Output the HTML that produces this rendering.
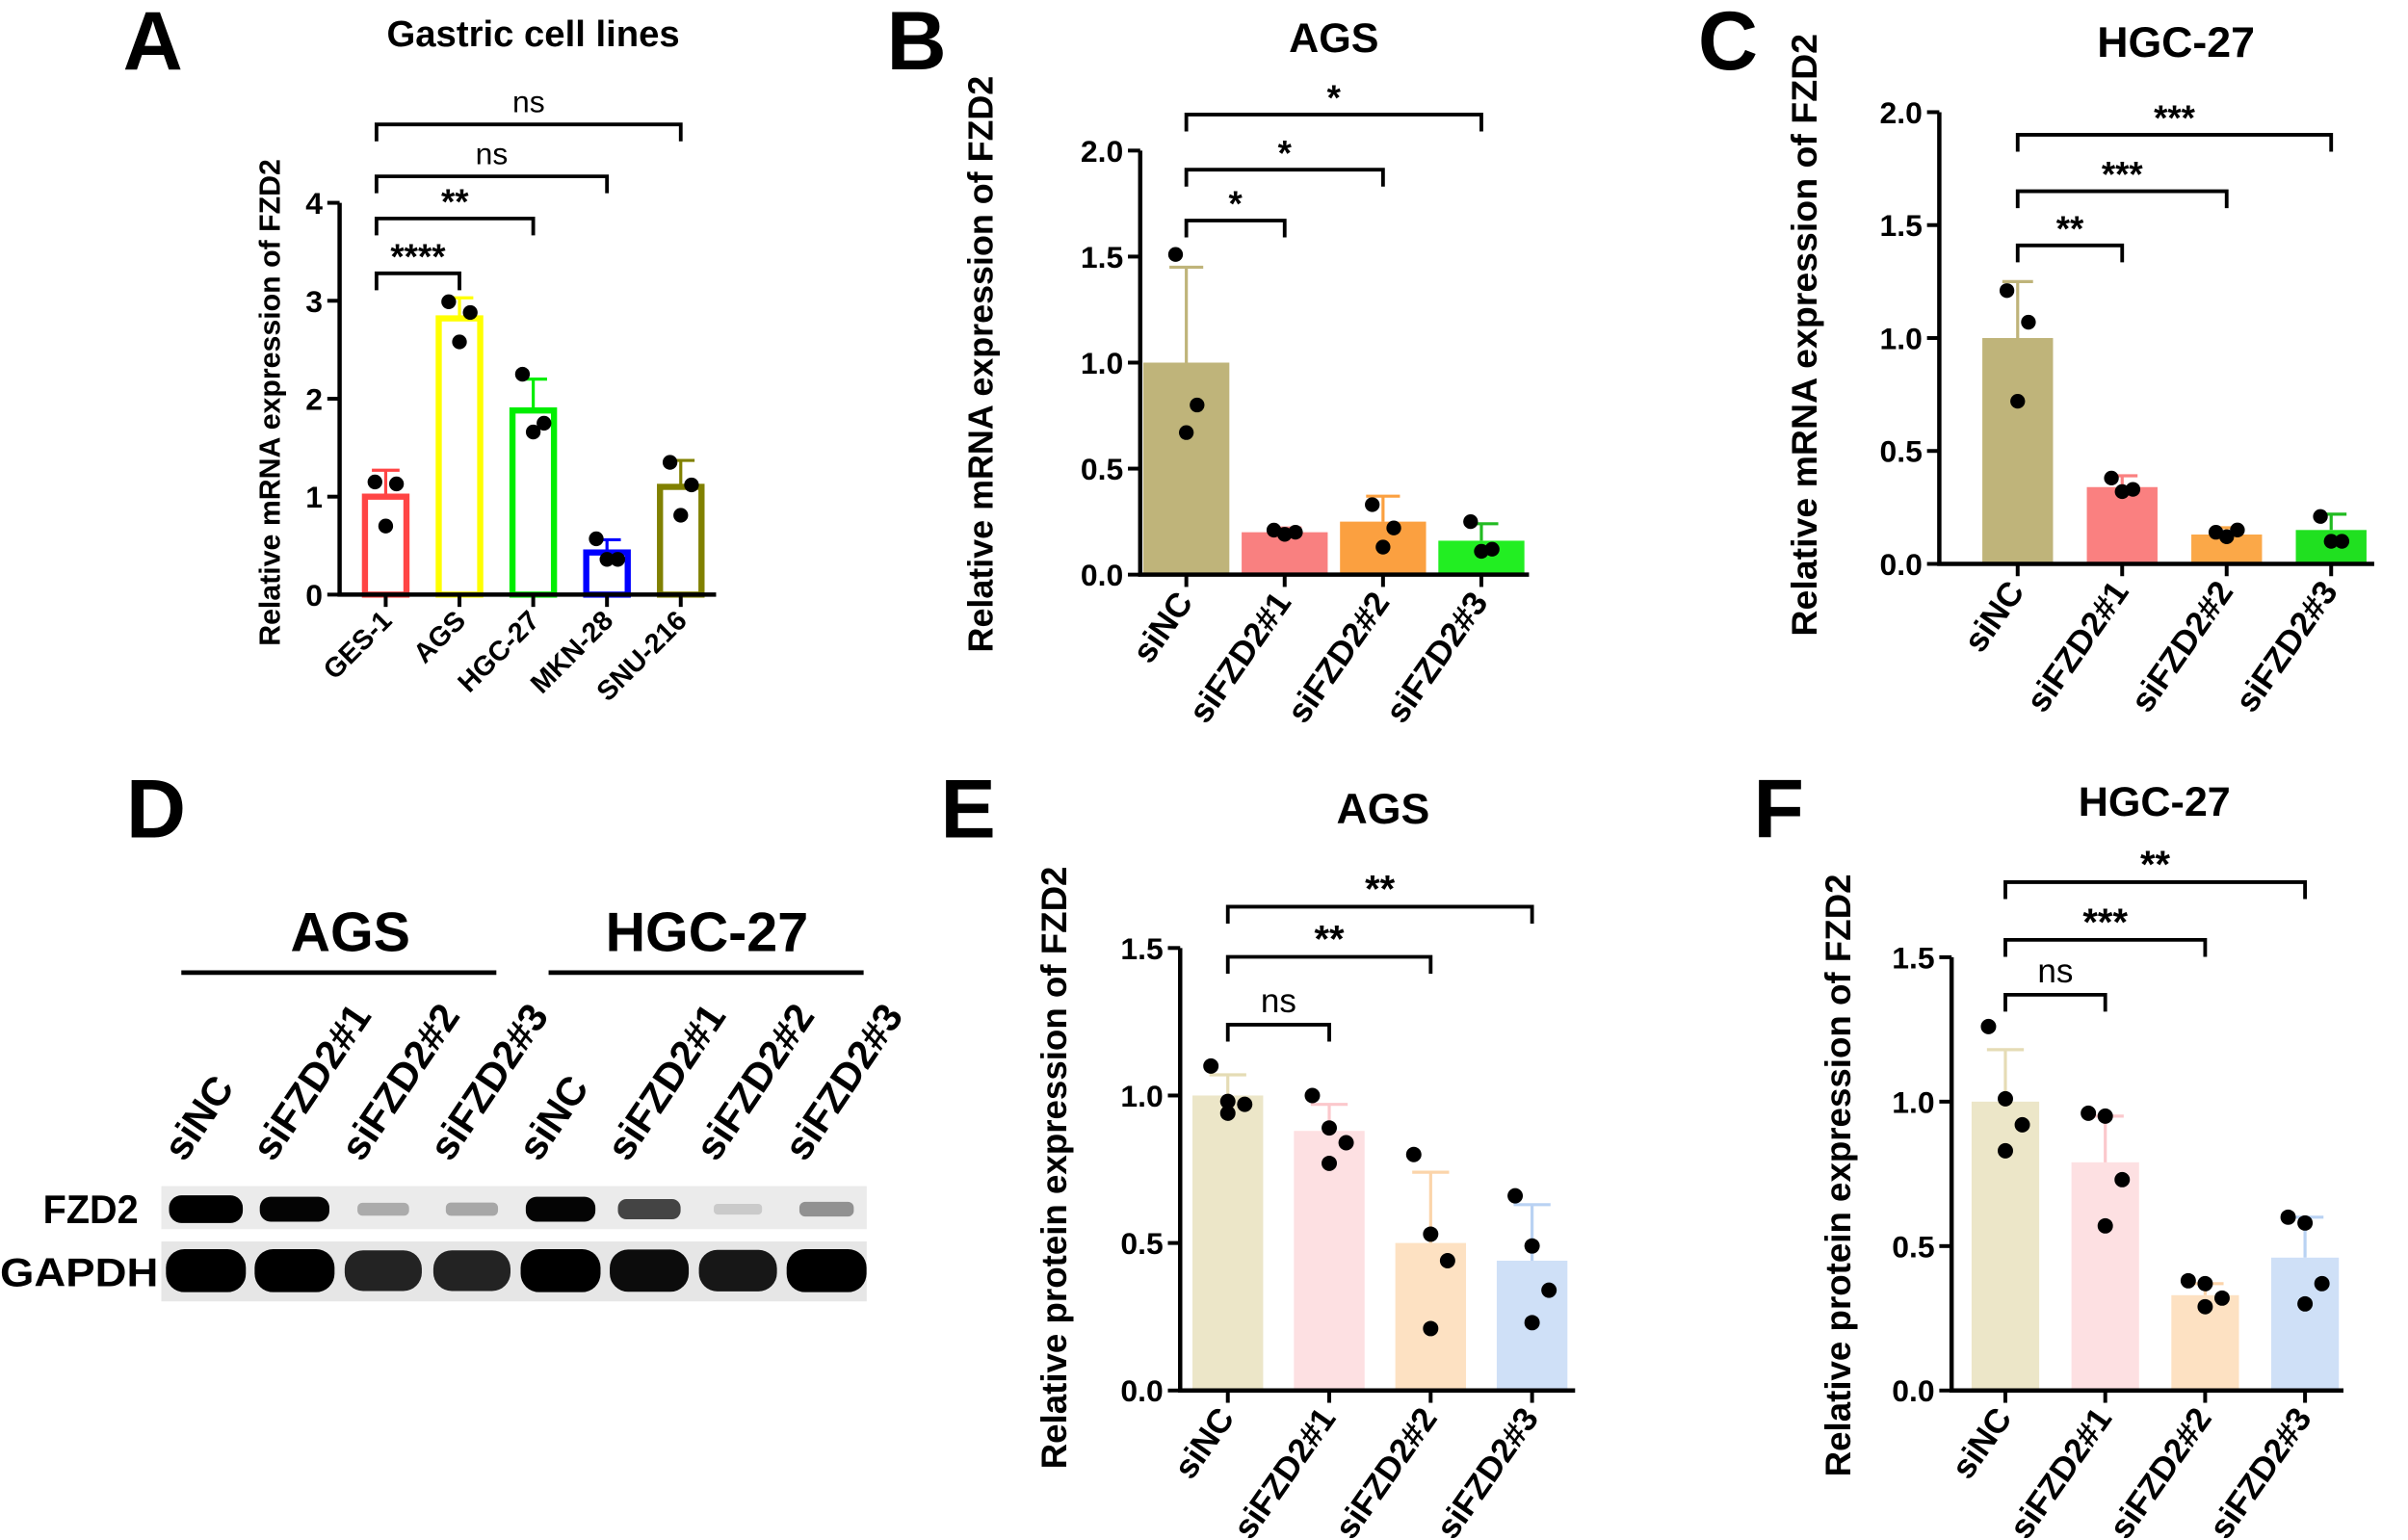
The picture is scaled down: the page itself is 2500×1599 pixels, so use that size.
<!DOCTYPE html>
<html><head><meta charset="utf-8"><style>
html,body{margin:0;padding:0;background:#fff}
svg{display:block;font-family:"Liberation Sans",Arial,sans-serif}
</style></head><body>
<svg id="fig" width="2500" height="1599" viewBox="0 0 1567 1002.3" preserveAspectRatio="none" xmlns="http://www.w3.org/2000/svg">
<g font-weight="bold" font-size="54">
<text x="80" y="45">A</text>
<text x="577" y="45">B</text>
<text x="1105" y="45">C</text>
<text x="82" y="545">D</text>
<text x="612" y="545">E</text>
<text x="1141" y="545">F</text>
</g>
<g>
<text x="228" y="619" font-size="36" font-weight="bold" text-anchor="middle">AGS</text>
<line x1="118" y1="633" x2="323" y2="633" stroke="#000" stroke-width="3"/>
<text x="460" y="619" font-size="36" font-weight="bold" text-anchor="middle">HGC-27</text>
<line x1="357" y1="633" x2="562" y2="633" stroke="#000" stroke-width="3"/>
<g id="lanes" font-size="26" font-weight="bold"></g>
<rect x="105" y="772" width="459" height="28" fill="#ebebeb"/>
<rect x="105" y="808" width="459" height="39" fill="#e6e6e6"/>
<g id="bands"></g>
<text x="90" y="796" font-size="26" font-weight="bold" text-anchor="end" textLength="62" lengthAdjust="spacingAndGlyphs">FZD2</text>
<text x="103" y="837" font-size="26" font-weight="bold" text-anchor="end" textLength="103" lengthAdjust="spacingAndGlyphs">GAPDH</text>
</g>
</svg>
<script>
// ---------- data ----------
const catsA = ["GES-1","AGS","HGC-27","MKN-28","SNU-216"];
const meanA = [1.0,2.82,1.88,0.43,1.1];
const errA = [1.27,3.03,2.2,0.56,1.37];
const ptsA = [[1.15,1.13,0.70],[2.99,2.88,2.58],[2.25,1.75,1.66],[0.57,0.36,0.36],[1.35,1.12,0.81]];
const sigA = [[0,1,3.28,"****"],[0,2,3.84,"**"],[0,3,4.27,"ns"],[0,4,4.8,"ns"]];
const ticksA = [0,1,2,3,4];

const catsSi = ["siNC","siFZD2#1","siFZD2#2","siFZD2#3"];
const meanB = [1.0,0.2,0.25,0.16];
const errB = [1.45,0.22,0.37,0.24];
const ptsB = [[1.51,0.80,0.67],[0.21,0.20,0.19],[0.33,0.22,0.13],[0.25,0.12,0.11]];
const sigB = [[0,1,1.67,"*"],[0,2,1.91,"*"],[0,3,2.17,"*"]];
const ticksB = [0,0.5,1.0,1.5,2.0];

const meanC = [1.0,0.34,0.13,0.15];
const errC = [1.25,0.39,0.16,0.22];
const ptsC = [[1.21,1.07,0.72],[0.38,0.33,0.32],[0.14,0.15,0.12],[0.21,0.10,0.10]];
const sigC = [[0,1,1.41,"**"],[0,2,1.65,"***"],[0,3,1.90,"***"]];

const meanE = [1.0,0.88,0.5,0.44];
const errE = [1.07,0.97,0.74,0.63];
const ptsE = [[1.10,0.98,0.97,0.94],[1.0,0.89,0.84,0.77],[0.80,0.53,0.44,0.21],[0.66,0.49,0.34,0.23]];
const sigE = [[0,1,1.24,"ns"],[0,2,1.47,"**"],[0,3,1.64,"**"]];
const ticksE = [0,0.5,1.0,1.5];

const meanF = [1.0,0.79,0.33,0.46];
const errF = [1.18,0.95,0.37,0.60];
const ptsF = [[1.26,1.01,0.92,0.83],[0.96,0.95,0.73,0.57],[0.38,0.37,0.32,0.29],[0.60,0.58,0.37,0.30]];
const sigF = [[0,1,1.37,"ns"],[0,2,1.56,"***"],[0,3,1.76,"**"]];

const blotLanes = ["siNC","siFZD2#1","siFZD2#2","siFZD2#3","siNC","siFZD2#1","siFZD2#2","siFZD2#3"];
const fzd2Intensity = [1.0,0.85,0.2,0.22,0.85,0.6,0.08,0.3];
const gapdhIntensity = [1.0,1.0,0.85,0.85,1.0,0.95,0.9,1.0];

// ---------- helpers ----------
const svg = document.getElementById('fig');
const NS = "http://www.w3.org/2000/svg";
function mk(tag, attrs, parent){
  const e = document.createElementNS(NS, tag);
  for (const k in attrs) e.setAttribute(k, attrs[k]);
  (parent||svg).appendChild(e);
  return e;
}
const jit3 = [-7,7,0], jit4 = [-11,0,11,0];

function panel(c){
  const g = mk('g',{});
  
  
  const yS = v => c.y0 - (c.y0 - c.yTop) * v / c.ymax;
  const xS = i => c.x0c + i * c.step;
  c.cats.forEach((cat,i)=>{
    const x = xS(i), top = yS(c.mean[i]);
    let b;
    if (c.hollow){
      b = mk('rect',{x:x-c.bw/2+2,y:top,width:c.bw-4,height:c.y0-top,fill:'none',stroke:c.colors[i],'stroke-width':4},g);
    } else {
      b = mk('rect',{x:x-c.bw/2,y:top,width:c.bw,height:c.y0-top,fill:c.colors[i]},g);
    }
    
    
    const ec = c.errColors ? c.errColors[i] : c.colors[i];
    const et = yS(c.err[i]);
    const el = mk('path',{d:`M${x},${top}V${et}M${x-c.cap},${et}H${x+c.cap}`,stroke:ec,'stroke-width':2,fill:'none'},g);
    
    
    const jit = c.pts[i].length===4 ? jit4 : jit3;
    c.pts[i].forEach((v,j)=>{
      const p = mk('circle',{cx:x+jit[j],cy:yS(v),r:c.r,fill:'#000'},g);
      
      
    });
    mk('line',{x1:x,y1:c.y0,x2:x,y2:c.y0+8,stroke:'#000','stroke-width':2.5},g);
    const t = mk('text',{x:x+5,y:c.y0+18,'font-size':c.xfs,'font-weight':'bold','text-anchor':'end',transform:`rotate(${c.rot} ${x+5} ${c.y0+18})`},g);
    t.textContent = cat;
    
    
  });
  const ax = mk('path',{d:`M${c.ax},${yS(c.ymax)}V${c.y0}H${c.xEnd}`,stroke:'#000','stroke-width':2.8,fill:'none'},g);
  
  
  c.ticks.forEach(v=>{
    mk('line',{x1:c.ax-8,y1:yS(v),x2:c.ax,y2:yS(v),stroke:'#000','stroke-width':2.5},g);
    const t = mk('text',{x:c.ax-11,y:yS(v)+c.yfs*0.36,'font-size':c.yfs,'font-weight':'bold','text-anchor':'end'},g);
    t.textContent = c.dec ? v.toFixed(1) : String(v);
    
    
  });
  c.sig.forEach(s=>{
    const x1 = s[0]===0 && c.hollow ? xS(0)-6 : xS(s[0]), x2 = xS(s[1]), y = yS(s[2]);
    const br = mk('path',{d:`M${x1},${y+11}V${y}H${x2}V${y+11}`,stroke:'#000','stroke-width':2.4,fill:'none'},g);
    
    
    const star = s[3].indexOf('*')>=0;
    const t = mk('text',{x:(x1+x2)/2,y:y-(star?3:8),'font-size':star?c.sfs+3:c.sfs,'font-weight':star?'bold':'normal','text-anchor':'middle'},g);
    t.textContent = s[3];
    
    
  });
  const yt = mk('text',{x:c.ytx,y:c.yty,'font-size':c.ytfs,'font-weight':'bold','text-anchor':'middle',transform:`rotate(-90 ${c.ytx} ${c.yty})`},g);
  yt.textContent = c.ytitle;
  
  
  const tt = mk('text',{x:c.tx,y:c.ty,'font-size':c.tfs,'font-weight':'bold','text-anchor':'middle'},g);
  tt.textContent = c.title;
  
  
}

panel({name:'panel-a-chart',cats:catsA,mean:meanA,err:errA,pts:ptsA,sig:sigA,ticks:ticksA,ymax:4,y0:387,yTop:132,
  ax:221,xEnd:466,x0c:251,step:48,bw:31,cap:9,r:4.8,hollow:true,colors:['#ff4444','#ffff00','#00ee00','#0000ff','#808000'],
  rot:-45,xfs:18,yfs:20,dec:false,sfs:20,ytx:182,yty:262,ytfs:19,ytitle:'Relative mRNA expression of FZD2',
  tx:347,ty:30,tfs:24,title:'Gastric cell lines'});
panel({name:'panel-b-chart',cats:catsSi,mean:meanB,err:errB,pts:ptsB,sig:sigB,ticks:ticksB,ymax:2,y0:374,yTop:98,
  ax:742,xEnd:995,x0c:772,step:64,bw:56,cap:11,r:4.8,colors:['#bfb47a','#f98080','#fba040','#22ee22'],
  errColors:['#bfb47a','#f98080','#fba040','#22bb22'],
  rot:-55,xfs:22,yfs:20,dec:true,sfs:20,ytx:646,yty:237,ytfs:22.5,ytitle:'Relative mRNA expression of FZD2',
  tx:868,ty:34,tfs:27,title:'AGS'});
panel({name:'panel-c-chart',cats:catsSi,mean:meanC,err:errC,pts:ptsC,sig:sigC,ticks:ticksB,ymax:2,y0:367,yTop:73,
  ax:1262,xEnd:1545,x0c:1313,step:68,bw:46,cap:10,r:4.8,colors:['#bfb47a','#fa8080','#fba848','#20e020'],
  errColors:['#bfb47a','#fa8080','#fba848','#20bb20'],
  rot:-55,xfs:22,yfs:20,dec:true,sfs:20,ytx:1182,yty:218,ytfs:23.5,ytitle:'Relative mRNA expression of FZD2',
  tx:1416,ty:37,tfs:28,title:'HGC-27'});
panel({name:'panel-e-chart',cats:catsSi,mean:meanE,err:errE,pts:ptsE,sig:sigE,ticks:ticksE,ymax:1.5,y0:905,yTop:617,
  ax:768,xEnd:1025,x0c:799,step:66,bw:46,cap:12,r:5,colors:['#ece6c8','#fde0e2','#fde1c2','#cfe0f7'],
  errColors:['#e5dcb5','#fbc8cc','#fbd4aa','#b9d2f3'],
  rot:-55,xfs:22,yfs:20,dec:true,sfs:22,ytx:694,yty:760,ytfs:23,ytitle:'Relative protein expression of FZD2',
  tx:900,ty:536,tfs:28,title:'AGS'});
panel({name:'panel-f-chart',cats:catsSi,mean:meanF,err:errF,pts:ptsF,sig:sigF,ticks:ticksE,ymax:1.5,y0:905,yTop:623,
  ax:1270,xEnd:1525,x0c:1305,step:65,bw:44,cap:12,r:5,colors:['#ece6c8','#fde0e2','#fde1c2','#cfe0f7'],
  errColors:['#e5dcb5','#fbc8cc','#fbd4aa','#b9d2f3'],
  rot:-55,xfs:22,yfs:20,dec:true,sfs:22,ytx:1204,yty:765,ytfs:23,ytitle:'Relative protein expression of FZD2',
  tx:1402,ty:531,tfs:27,title:'HGC-27'});

// western blot
const lanesG = document.getElementById('lanes');
const bandsG = document.getElementById('bands');
const laneX0 = 134, laneStep = 57.7;
blotLanes.forEach((l,i)=>{
  const x = laneX0 + i*laneStep;
  const t = mk('text',{x:x-14,y:757,transform:`rotate(-56 ${x-14} 757)`},lanesG);
  t.textContent = l;
  
  
  const a = fzd2Intensity[i];
  const w1 = 30+18*a;
  const b1 = mk('rect',{x:x-w1/2,y:787-(3+6*a),width:w1,height:6+12*a,rx:6*a+2,fill:'#000','fill-opacity':Math.min(1,a*1.1+0.05)},bandsG);
  
  
  const b = gapdhIntensity[i];
  const w2 = 40+12*b;
  const b2 = mk('rect',{x:x-w2/2,y:827-(9+5*b),width:w2,height:18+10*b,rx:12,fill:'#000','fill-opacity':b},bandsG);
  
  
});
</script>
</body></html>
